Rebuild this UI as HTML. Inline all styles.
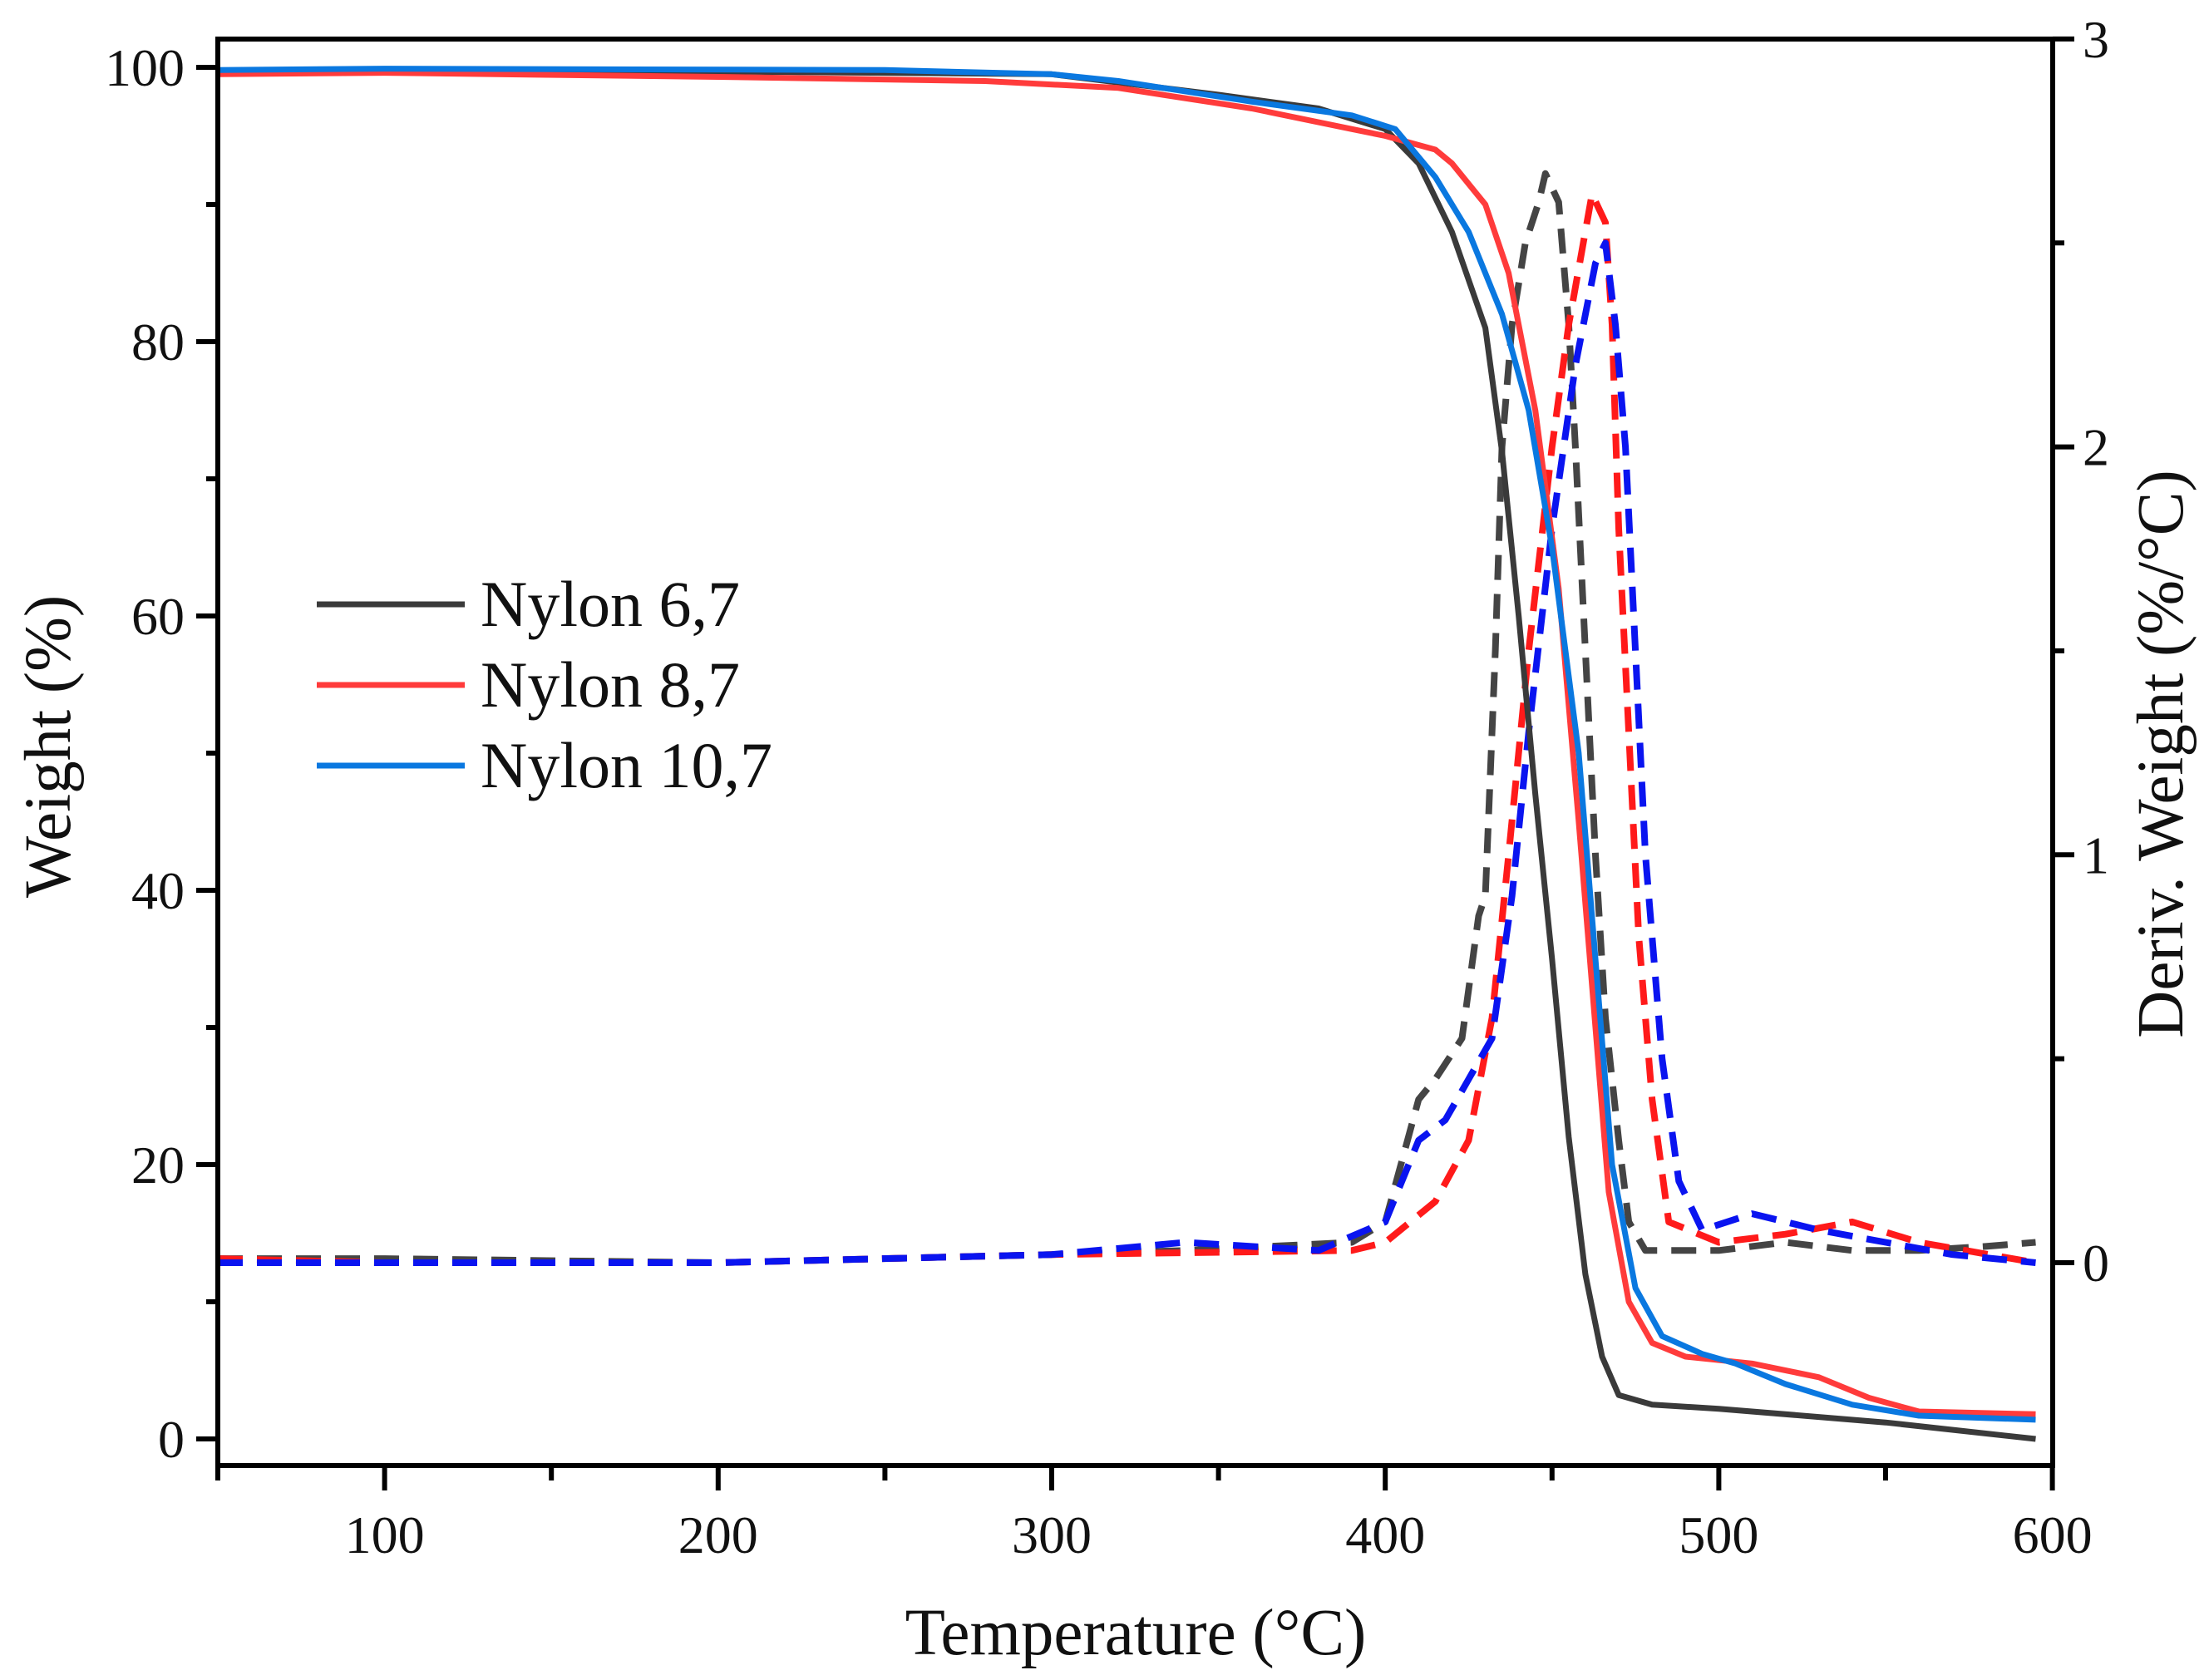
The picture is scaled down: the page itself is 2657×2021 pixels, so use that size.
<!DOCTYPE html>
<html><head><meta charset="utf-8"><style>
html,body{margin:0;padding:0;background:#fff}
svg{display:block}
text{font-family:"Liberation Serif",serif;fill:#111}
</style></head><body>
<svg id="chart" width="2657" height="2021" viewBox="0 0 2657 2021">
<g id="plot"></g>
<g id="axes"></g>
<g id="legend"></g>
</svg>
<script>
// ---- data ----
const tNylon67 = [50,100,200,300,350,380,400,410,420,430,435,440,445,450,455,460,465,470,480,500,550,595];
const wNylon67 = [99.7,99.8,99.7,99.5,98,97,95.5,93,88,81,72,60,47,35,22,12,6,3.2,2.5,2.2,1.2,0];
const tNylon87 = [50,100,200,280,320,360,390,400,415,420,430,437,445,452,458,463,467,473,480,490,510,530,545,560,595];
const wNylon87 = [99.5,99.6,99.3,99,98.5,97,95.5,95,94,93,90,85,75,62,45,30,18,10,7,6,5.5,4.5,3,2,1.8];
const tNylon107 = [50,100,250,300,320,360,390,403,415,425,435,443,450,458,463,468,475,483,495,505,520,540,560,595];
const wNylon107 = [99.8,99.9,99.8,99.5,99,97.5,96.5,95.5,92,88,82,75,65,50,35,20,11,7.5,6.2,5.5,4,2.5,1.7,1.4];

const dtNylon67 = [50,100,200,300,340,390,400,405,410,415,423,428,430,433,435,438,442,446,448,452,455,457,460,463,466,470,473,478,500,520,540,560,580,595];
const dNylon67 = [0.01,0.01,0,0.02,0.03,0.05,0.1,0.25,0.4,0.45,0.55,0.85,0.9,1.5,2.0,2.3,2.5,2.6,2.67,2.6,2.3,2.0,1.5,1.0,0.6,0.3,0.1,0.03,0.03,0.05,0.03,0.03,0.04,0.05];
const dtNylon87 = [50,100,200,300,390,400,415,425,432,437,443,450,455,462,466,468,470,473,476,480,485,500,520,540,560,595];
const dNylon87 = [0.01,0,0,0.02,0.03,0.05,0.15,0.3,0.6,1.0,1.5,2.0,2.3,2.62,2.55,2.3,1.8,1.3,0.8,0.4,0.1,0.05,0.07,0.1,0.05,0];
const dtNylon107 = [50,100,200,300,340,380,400,410,418,425,432,438,443,450,457,463,466,469,472,475,478,483,488,495,510,530,550,570,595];
const dNylon107 = [0,0,0,0.02,0.05,0.03,0.1,0.3,0.35,0.45,0.55,0.9,1.3,1.8,2.2,2.45,2.5,2.3,2.0,1.5,1.0,0.5,0.2,0.08,0.12,0.08,0.05,0.02,0];

const xTicks = [100,200,300,400,500,600];
const yTicks = [0,20,40,60,80,100];
const y2Ticks = [0,1,2,3];
const seriesNames = ["Nylon 6,7","Nylon 8,7","Nylon 10,7"];

// ---- scales ----
const L=262,R=2469,T=47,B=1763;
const X = t => 262 + (t-50)*4.012;
const Y = w => 1731 - w*16.5;
const Y2 = d => 1519 - d*490.7;
const NS="http://www.w3.org/2000/svg";
function mk(tag,attrs,parent){const e=document.createElementNS(NS,tag);for(const k in attrs)e.setAttribute(k,attrs[k]);parent.appendChild(e);return e;}
const plot=document.getElementById('plot'),axes=document.getElementById('axes'),legend=document.getElementById('legend');

function line(ts,vs,ys,color,dash,name){
  const d=ts.map((t,i)=>(i?'L':'M')+X(t).toFixed(1)+','+ys(vs[i]).toFixed(1)).join('');
  const p=mk('path',{d:d,fill:'none',stroke:color,'stroke-width':dash?8:7,'stroke-linejoin':'round','stroke-linecap':'butt'},plot);
  if(dash)p.setAttribute('stroke-dasharray','30 17');
  
  
}
line(dtNylon67,dNylon67,Y2,'#444444',true,'deriv-nylon-6-7');
line(dtNylon87,dNylon87,Y2,'#ff1a1a',true,'deriv-nylon-8-7');
line(dtNylon107,dNylon107,Y2,'#0a14f0',true,'deriv-nylon-10-7');
line(tNylon67,wNylon67,Y,'#3a3a3a',false,'weight-nylon-6-7');
line(tNylon87,wNylon87,Y,'#ff3b3b',false,'weight-nylon-8-7');
line(tNylon107,wNylon107,Y,'#0a78e0',false,'weight-nylon-10-7');

// frame
const fr=mk('rect',{x:L,y:T,width:R-L,height:B-T,fill:'none',stroke:'#000','stroke-width':6},axes);

// x ticks
for(let t=50;t<=600;t+=50){const maj=t%100===0;mk('line',{x1:X(t),x2:X(t),y1:B,y2:B+(maj?30:18),stroke:'#000','stroke-width':6},axes);}
xTicks.forEach(t=>{const e=mk('text',{x:X(t),y:1868,'font-size':64,'text-anchor':'middle'},axes);e.textContent=t;
});
// y ticks
for(let w=0;w<=100;w+=10){const maj=w%20===0;mk('line',{x1:L,x2:L-(maj?26:14),y1:Y(w),y2:Y(w),stroke:'#000','stroke-width':6},axes);}
yTicks.forEach(w=>{const e=mk('text',{x:222,y:Y(w)+22,'font-size':64,'text-anchor':'end'},axes);e.textContent=w;
});
// y2 ticks
for(let d=0;d<=3;d+=0.5){const maj=d%1===0;mk('line',{x1:R,x2:R+(maj?26:14),y1:Y2(d),y2:Y2(d),stroke:'#000','stroke-width':6},axes);}
y2Ticks.forEach(d=>{const e=mk('text',{x:2505,y:Y2(d)+22,'font-size':64,'text-anchor':'start'},axes);e.textContent=d;
});
// titles
let e=mk('text',{x:1366,y:1990,'font-size':79,'text-anchor':'middle'},axes);e.textContent='Temperature (°C)';

e=mk('text',{x:0,y:0,'font-size':79,'text-anchor':'middle',transform:'translate(84,898) rotate(-90)'},axes);e.textContent='Weight (%)';

e=mk('text',{x:0,y:0,'font-size':79,'text-anchor':'middle',transform:'translate(2625,907) rotate(-90)'},axes);e.textContent='Deriv. Weight (%/°C)';

// legend
const lc=['#3a3a3a','#ff3b3b','#0a78e0'];
seriesNames.forEach((n,i)=>{const y=727+i*97;
 const g=mk('g',{},legend);
 mk('line',{x1:381,x2:559,y1:y,y2:y,stroke:lc[i],'stroke-width':7},g);
 const t=mk('text',{x:578,y:y+26,'font-size':78},g);t.textContent=n;});
</script>
</body></html>
